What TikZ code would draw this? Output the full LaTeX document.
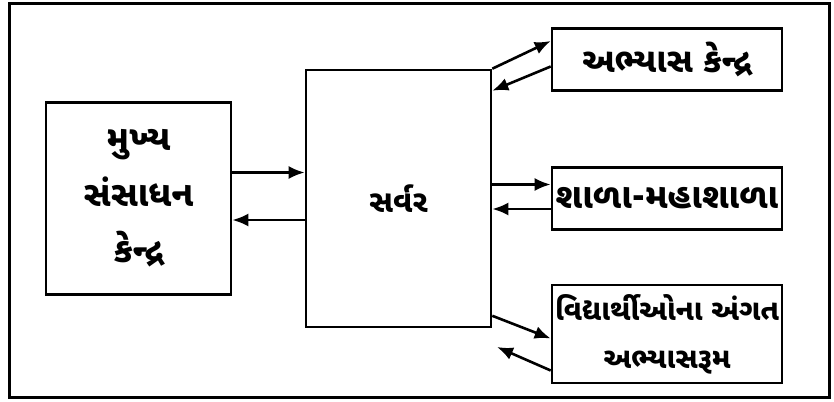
\documentclass[tikz,border=0pt]{standalone}
\usepackage{fontspec}
\newfontfamily\gujfont[Script=Gujarati]{Noto Sans Gujarati UI}
\usetikzlibrary{arrows.meta}
\tikzset{
  block/.style={draw, line width=2.6pt, inner sep=0pt, align=center},
  link/.style={line width=2.6pt, -{Latex[length=16pt,width=13pt]}},
}
\newcommand{\gsize}[2]{\gujfont\bfseries\fontsize{#1}{#2}\selectfont}
\begin{document}
\begin{tikzpicture}[x=1pt,y=-1pt]
    \useasboundingbox (0,0) rectangle (834,401);
    \draw[line width=3pt] (9,4) rectangle (829,397);
    % boxes
    \node[block, minimum width=185pt, minimum height=192pt, font=\gsize{35}{56}] (main) at (138.5,198.5)
        {મુખ્ય\\સંસાધન\\કેન્દ્ર};
    \node[block, minimum width=185pt, minimum height=257pt, font=\gsize{31}{40}] (server) at (398.5,198.5)
        {સર્વર};
    \node[block, minimum width=230pt, minimum height=62pt, font=\gsize{34}{40}] (study) at (667,59.5)
        {અભ્યાસ કેન્દ્ર};
    \node[block, minimum width=230pt, minimum height=62pt, font=\gsize{35}{40}] (school) at (667,198.5)
        {શાળા-મહાશાળા};
    \node[block, minimum width=230pt, minimum height=98pt, font=\gsize{29}{48}] (room) at (667,334)
        {વિદ્યાર્થીઓના અંગત\\અભ્યાસરૂમ};
    \coordinate (roomback) at (497,347);
    % arrows
    \draw[link] ([yshift=26pt]main.east) -- ([yshift=26pt]server.west);
    \draw[link] ([yshift=-21.5pt]server.west) -- ([yshift=-21.5pt]main.east);
    \draw[link] (server.north east) -- ([yshift=18.5pt]study.west);
    \draw[link] ([yshift=-7pt]study.west) -- ([yshift=-22pt]server.north east);
    \draw[link] ([yshift=14pt]server.east) -- ([yshift=14pt]school.west);
    \draw[link] ([yshift=-10.5pt]school.west) -- ([yshift=-10.5pt]server.east);
    \draw[link] ([yshift=12.5pt]server.south east) -- ([yshift=-4.5pt]room.west);
    \draw[link] ([yshift=-36.5pt]room.west) -- (roomback);
\end{tikzpicture}
\end{document}
